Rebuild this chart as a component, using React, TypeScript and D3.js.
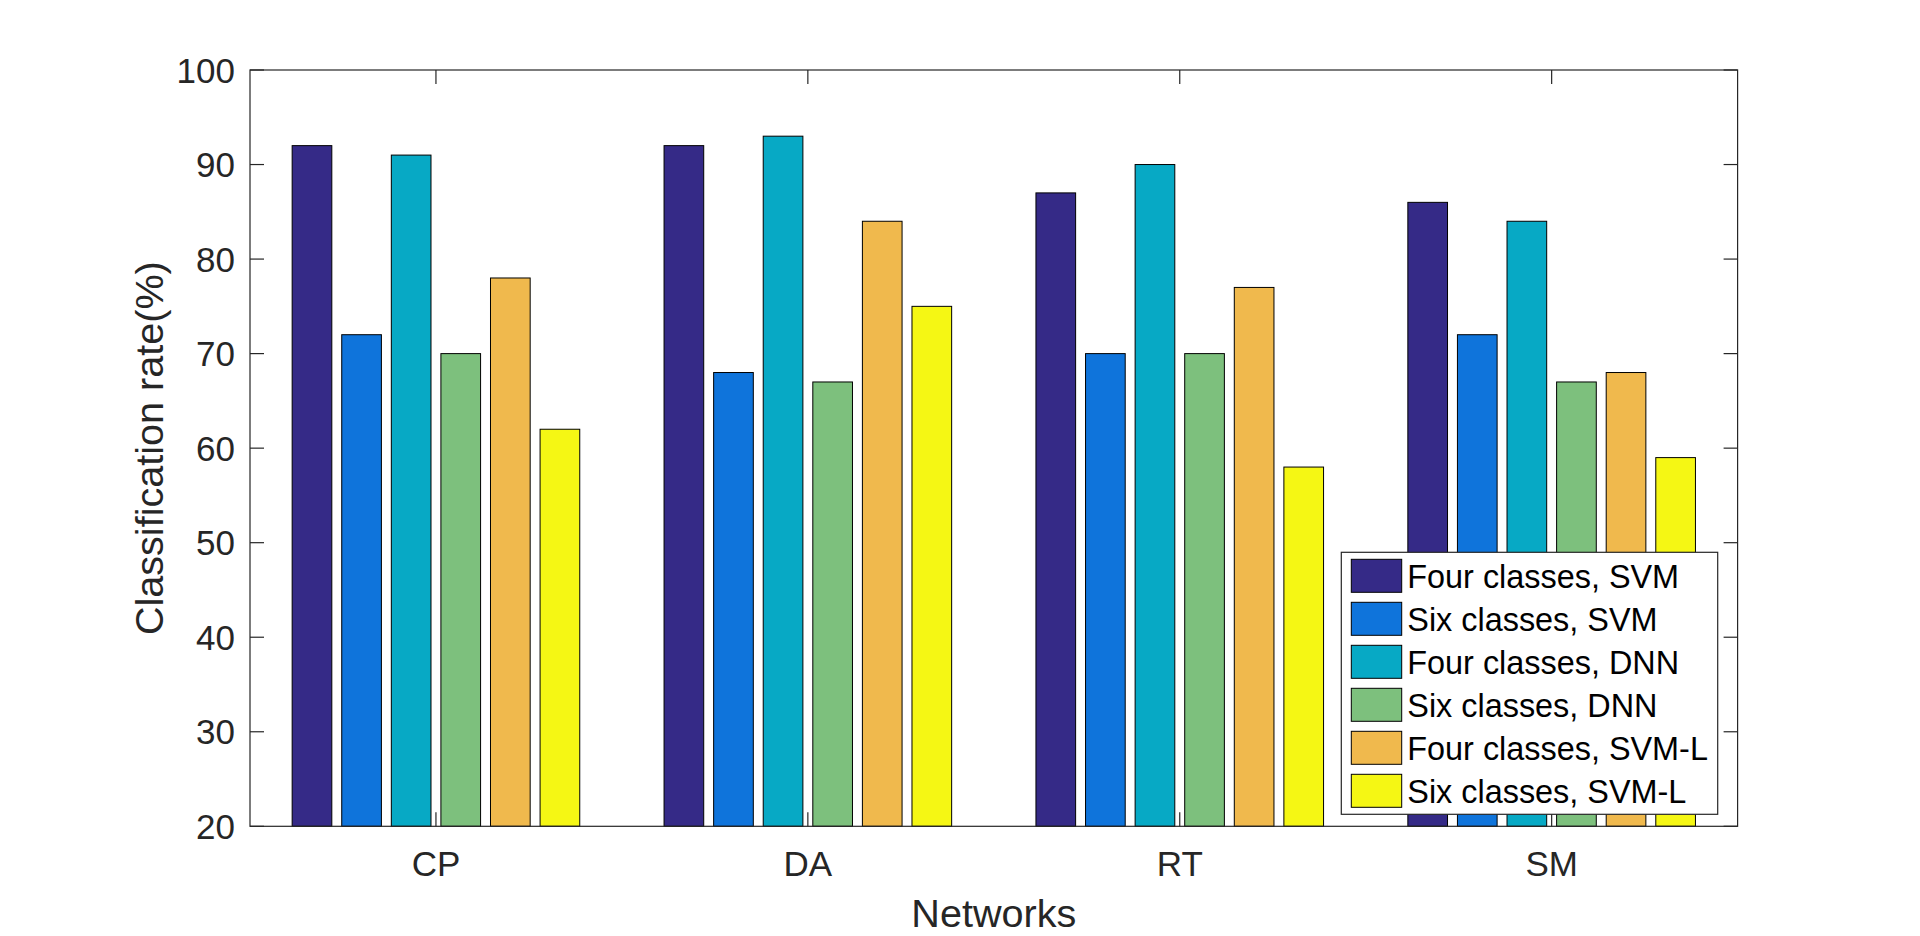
import { scaleBand, scaleLinear } from 'd3'

// grouped bars — classification rate per network, six method/class combos
const networks = ['CP', 'DA', 'RT', 'SM']
const seriesNames = [
  'Four classes, SVM',
  'Six classes, SVM',
  'Four classes, DNN',
  'Six classes, DNN',
  'Four classes, SVM-L',
  'Six classes, SVM-L',
]
const fourSVM = [92, 92, 87, 86]
const sixSVM = [72, 68, 70, 72]
const fourDNN = [91, 93, 90, 84]
const sixDNN = [70, 67, 70, 67]
const fourSVML = [78, 84, 77, 68]
const sixSVML = [62, 75, 58, 59]
const yTicks = [20, 30, 40, 50, 60, 70, 80, 90, 100]

const seriesValues = [fourSVM, sixSVM, fourDNN, sixDNN, fourSVML, sixSVML]
const colors = ['#352A87', '#0F74DB', '#07A9C5', '#7DC07D', '#F0B94D', '#F5F714']

const W = 1920
const H = 936
const AX = { left: 250, right: 1737.6, top: 70, bottom: 826.3 }
const TICK = 14
const FONT = '"Liberation Sans", Arial, Helvetica, sans-serif'
const AXIS_COLOR = '#262626'

export default function App() {
  const x0 = scaleBand<string>()
    .domain(networks)
    .range([AX.left, AX.right])
    .paddingInner(0.2)
    .paddingOuter(0.1)
  const x1 = scaleBand<string>()
    .domain(seriesNames)
    .range([0, x0.bandwidth()])
    .paddingInner(0.2)
    .paddingOuter(0.1)
  const y = scaleLinear().domain([20, 100]).range([AX.bottom, AX.top])

  const leg = { left: 1341.3, top: 552.3, right: 1717.7, bottom: 814.3 }
  const rowH = 43
  const firstRow = 575.8

  return (
    <svg
      width={W}
      height={H}
      viewBox={`0 0 ${W} ${H}`}
      style={{ position: 'absolute', left: 0, top: 0, background: '#fff', fontFamily: FONT }}
    >
      <rect x={0} y={0} width={W} height={H} fill="#fff" />
      {/* bars */}
      {networks.map((net, ci) => (
        <g key={net} transform={`translate(${x0(net)}, 0)`}>
          {seriesNames.map((s, si) => {
            const v = seriesValues[si][ci]
            return (
              <rect
                key={s}
                x={x1(s)}
                y={y(v)}
                width={x1.bandwidth()}
                height={y(20) - y(v)}
                fill={colors[si]}
                stroke="#000"
                strokeWidth={1}
              />
            )
          })}
        </g>
      ))}
      {/* axes box */}
      <rect
        x={AX.left}
        y={AX.top}
        width={AX.right - AX.left}
        height={AX.bottom - AX.top}
        fill="none"
        stroke={AXIS_COLOR}
        strokeWidth={1.2}
      />
      {/* y ticks */}
      {yTicks.map((t) => (
        <g key={t}>
          <line x1={AX.left} x2={AX.left + TICK} y1={y(t)} y2={y(t)} stroke={AXIS_COLOR} strokeWidth={1.2} />
          <line x1={AX.right} x2={AX.right - TICK} y1={y(t)} y2={y(t)} stroke={AXIS_COLOR} strokeWidth={1.2} />
          <text
            x={AX.left - 15}
            y={y(t)}
            dy="0.36em"
            textAnchor="end"
            fontSize={35}
            fill={AXIS_COLOR}
          >
            {t}
          </text>
        </g>
      ))}
      {/* x ticks */}
      {networks.map((net) => {
        const cx = (x0(net) ?? 0) + x0.bandwidth() / 2
        return (
          <g key={net}>
            <line x1={cx} x2={cx} y1={AX.bottom} y2={AX.bottom - TICK} stroke={AXIS_COLOR} strokeWidth={1.2} />
            <line x1={cx} x2={cx} y1={AX.top} y2={AX.top + TICK} stroke={AXIS_COLOR} strokeWidth={1.2} />
            <text x={cx} y={875.7} textAnchor="middle" fontSize={35} fill={AXIS_COLOR}>
              {net}
            </text>
          </g>
        )
      })}
      {/* axis titles */}
      <text x={(AX.left + AX.right) / 2} y={926.7} textAnchor="middle" fontSize={39.6} fill={AXIS_COLOR}>
        Networks
      </text>
      <text
        transform={`translate(163, ${(AX.top + AX.bottom) / 2}) rotate(-90)`}
        textAnchor="middle"
        fontSize={39.6}
        fill={AXIS_COLOR}
      >
        Classification rate(%)
      </text>
      {/* legend */}
      <rect
        x={leg.left}
        y={leg.top}
        width={leg.right - leg.left}
        height={leg.bottom - leg.top}
        fill="#fff"
        stroke={AXIS_COLOR}
        strokeWidth={1.2}
      />
      {seriesNames.map((s, i) => {
        const cy = firstRow + i * rowH
        return (
          <g key={s}>
            <rect x={1351.3} y={cy - 16.5} width={50.4} height={33} fill={colors[i]} stroke="#000" strokeWidth={1} />
            <text x={1407.3} y={cy} dy="0.37em" fontSize={32.4} fill="#000">
              {s}
            </text>
          </g>
        )
      })}
    </svg>
  )
}
